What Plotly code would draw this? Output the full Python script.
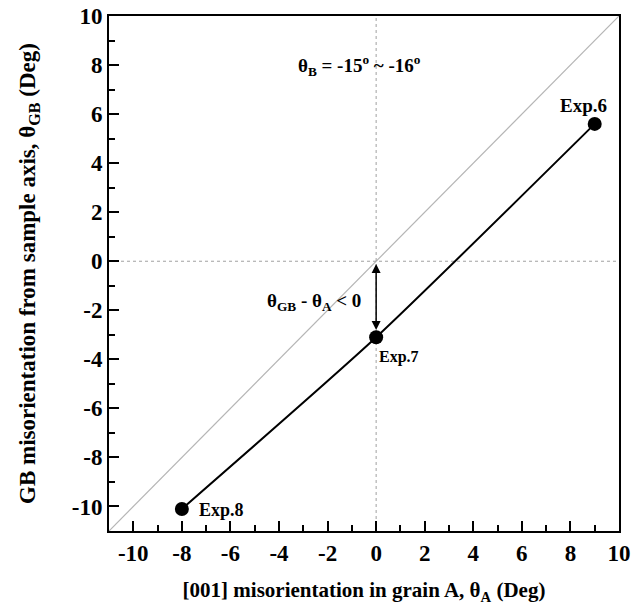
import plotly.graph_objects as go

# Data
exp_names = ["Exp.8", "Exp.7", "Exp.6"]
theta_a = [-8, 0, 9]
theta_gb = [-10.1, -3.1, 5.6]
diag_x = [-11, 10]
diag_y = [-11, 10]
x_ticks = [-10, -8, -6, -4, -2, 0, 2, 4, 6, 8, 10]
y_ticks = [-10, -8, -6, -4, -2, 0, 2, 4, 6, 8, 10]

FONT = "Liberation Serif"

fig = go.Figure()

# y = x reference line
fig.add_trace(go.Scatter(x=diag_x, y=diag_y, mode="lines",
                         line=dict(color="#b5b5b5", width=1.2), hoverinfo="skip"))
# zero guide lines
fig.add_trace(go.Scatter(x=[0, 0], y=[-11, 10], mode="lines",
                         line=dict(color="#a0a0a0", width=1, dash="dot"), hoverinfo="skip"))
fig.add_trace(go.Scatter(x=[-11, 10], y=[0, 0], mode="lines",
                         line=dict(color="#a0a0a0", width=1, dash="dot"), hoverinfo="skip"))

# data curve
fig.add_trace(go.Scatter(x=theta_a, y=theta_gb, mode="lines+markers",
                         line=dict(color="black", width=2, shape="spline", smoothing=0.6),
                         marker=dict(color="black", size=14)))

def lab_font(s):
    return dict(family=FONT, size=s, color="black", weight="bold")

fig.add_annotation(x=theta_a[0], y=theta_gb[0], text=exp_names[0], showarrow=False,
                   xanchor="left", yanchor="middle", xshift=15, yshift=-1, font=lab_font(18))
fig.add_annotation(x=theta_a[1], y=theta_gb[1], text=exp_names[1], showarrow=False,
                   xanchor="left", yanchor="middle", xshift=1, yshift=-20, font=lab_font(16))
fig.add_annotation(x=theta_a[2], y=theta_gb[2], text=exp_names[2], showarrow=False,
                   xanchor="center", yanchor="middle", xshift=-11, yshift=18, font=lab_font(19))

# double-headed arrow
fig.add_annotation(x=0, y=theta_gb[1] + 0.3, ax=0, ay=-0.05, axref="x", ayref="y",
                   xref="x", yref="y", showarrow=True, arrowhead=2, arrowside="end+start",
                   arrowsize=1.2, arrowwidth=1.5, arrowcolor="black", text="")

fig.add_annotation(x=-2.55, y=-1.67, text="θ<sub>GB</sub> - θ<sub>A</sub> < 0", showarrow=False,
                   font=dict(family=FONT, size=19, color="black", weight="bold"))
fig.add_annotation(x=-0.7, y=8.0, text="θ<sub>B</sub> = -15<sup>o</sup> ~ -16<sup>o</sup>",
                   showarrow=False,
                   font=dict(family=FONT, size=19, color="black", weight="bold"))

axis_common = dict(
    showline=True, linecolor="black", linewidth=2, mirror=True,
    ticks="inside", ticklen=10, tickwidth=2, tickcolor="black",
    showgrid=False, zeroline=False, automargin=False,
    tickfont=dict(family=FONT, size=23, color="black", weight="bold"),
    minor=dict(ticks="inside", ticklen=6, tickwidth=2, tickcolor="black", dtick=1),
)

fig.update_xaxes(range=[-11, 10], tickvals=x_ticks, ticktext=[str(v) for v in x_ticks],
                 title=dict(text="[001] misorientation in grain A, θ<sub>A</sub> (Deg)",
                            font=dict(family=FONT, size=21, color="black", weight="bold"),
                            standoff=18),
                 **axis_common)
fig.update_yaxes(range=[-11, 10], tickvals=y_ticks, ticktext=[str(v) for v in y_ticks],
                 title=dict(text="GB misorientation from sample axis, θ<sub>GB</sub> (Deg)",
                            font=dict(family=FONT, size=23, color="black", weight="bold"),
                            standoff=30),
                 **axis_common)

fig.update_layout(
    width=643, height=609,
    margin=dict(l=109, r=24, t=16, b=78),
    plot_bgcolor="white", paper_bgcolor="white",
    showlegend=False,
)

fig.write_html("out.html", config={"displayModeBar": False},
               post_script="document.body.style.margin='0';document.body.style.overflow='hidden';")
